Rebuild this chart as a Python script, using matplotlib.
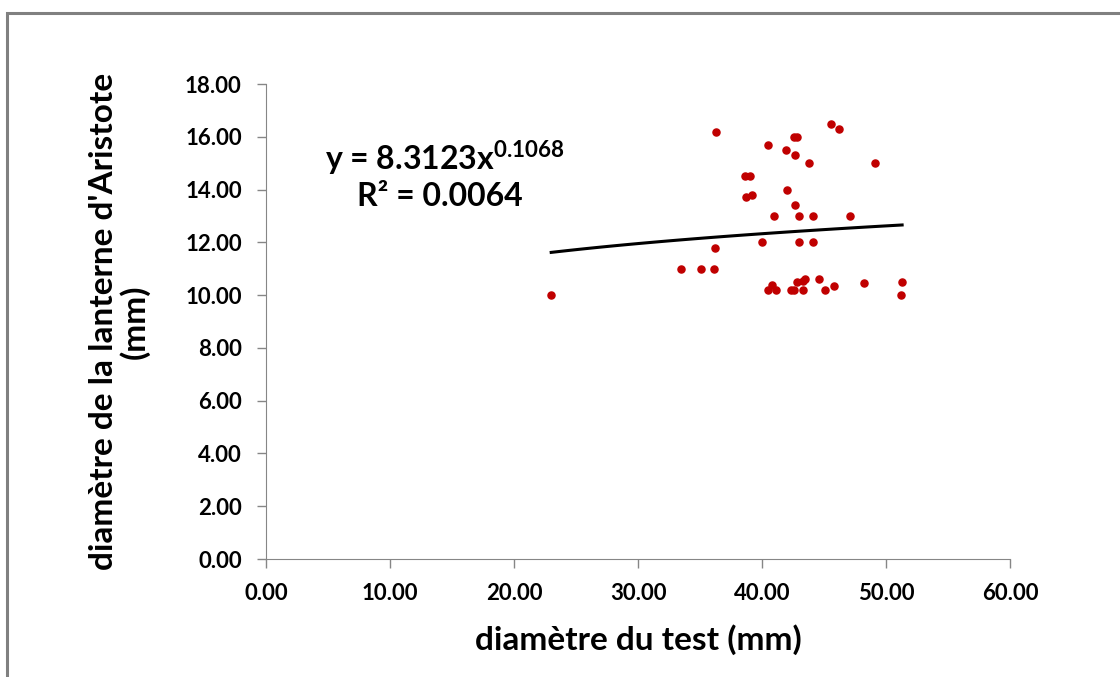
import numpy as np
import matplotlib.pyplot as plt
from matplotlib.patches import Rectangle

# diamètre du test (mm) vs diamètre de la lanterne d'Aristote (mm)
test_diam = [36.3, 45.6, 46.2, 40.5, 42.6, 42.8, 41.9, 42.7, 43.8, 49.1,
             38.6, 39.0, 38.7, 39.2, 42.0, 42.7, 41.0, 43.0, 44.1, 47.1,
             40.0, 43.0, 44.1, 36.2, 33.5, 35.1, 36.1, 23.0, 40.8, 40.5,
             41.1, 42.3, 42.6, 42.8, 43.3, 43.5, 43.3, 44.6, 45.1, 45.8,
             48.2, 51.3, 51.2]
lantern_diam = [16.2, 16.5, 16.3, 15.7, 16.0, 16.0, 15.5, 15.3, 15.0, 15.0,
                14.5, 14.5, 13.7, 13.8, 14.0, 13.4, 13.0, 13.0, 13.0, 13.0,
                12.0, 12.0, 12.0, 11.8, 11.0, 11.0, 11.0, 10.0, 10.4, 10.2,
                10.2, 10.2, 10.2, 10.5, 10.2, 10.6, 10.55, 10.6, 10.2, 10.35,
                10.45, 10.5, 10.0]

# power trendline reported on the chart
coef_a = 8.3123
coef_b = 0.1068

x_ticks = [0, 10, 20, 30, 40, 50, 60]
y_ticks = [0, 2, 4, 6, 8, 10, 12, 14, 16, 18]

plt.rcParams['font.family'] = ['Lato', 'DejaVu Sans']
plt.rcParams['font.weight'] = 'bold'
plt.rcParams['mathtext.fontset'] = 'custom'
plt.rcParams['mathtext.rm'] = 'Lato:bold'
plt.rcParams['mathtext.bf'] = 'Lato:bold'

fig = plt.figure(figsize=(11.2, 6.77), dpi=100)
ax = fig.add_axes([266 / 1120, 1 - 559 / 677, (1010 - 266) / 1120, (559 - 84) / 677])

# outer chart border
fig.patches.append(Rectangle((7 / 1120, -0.01), 1.2, 1 - 13 / 677 + 0.01,
                             transform=fig.transFigure, fill=False,
                             edgecolor='#808080', linewidth=2.2))

ax.scatter(test_diam, lantern_diam, s=26, color='#C00000', zorder=3)

xt = np.linspace(min(test_diam), max(test_diam), 100)
ax.plot(xt, coef_a * xt ** coef_b, color='black', linewidth=2.2, zorder=2)

ax.set_xlim(0, 60)
ax.set_ylim(0, 18)
ax.set_xticks(x_ticks)
ax.set_yticks(y_ticks)
ax.set_xticklabels([f"{v:.2f}" for v in x_ticks], fontsize=16, fontweight='bold')
ax.set_yticklabels([f"{v:.2f}" for v in y_ticks], fontsize=16, fontweight='bold')
ax.tick_params(axis='both', direction='out', length=6.5, color='#868686', width=1)
ax.tick_params(axis='x', pad=11)
ax.tick_params(axis='y', pad=11)

for side in ['top', 'right']:
    ax.spines[side].set_visible(False)
for side in ['left', 'bottom']:
    ax.spines[side].set_color('#868686')

ax.set_xlabel("diamètre du test (mm)", fontsize=24, fontweight='bold', labelpad=14)
ax.set_ylabel("diamètre de la lanterne d'Aristote\n(mm)", fontsize=24,
              fontweight='bold', labelpad=25, linespacing=1.05)

fig.text(445 / 1120, 1 - 158 / 677, r"y = 8.3123x$^{\mathrm{0.1068}}$", fontsize=23,
         fontweight='bold', ha='center', va='center')
fig.text(440 / 1120, 1 - 197 / 677, "R² = 0.0064", fontsize=23,
         fontweight='bold', ha='center', va='center')

fig.savefig("out.png", dpi=100)
